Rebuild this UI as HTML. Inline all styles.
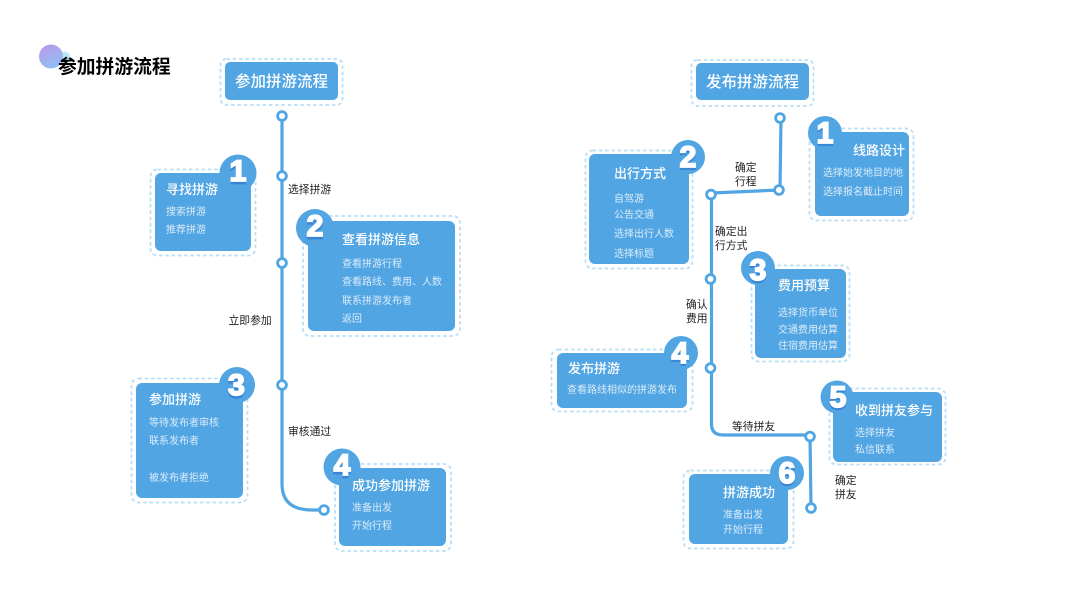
<!DOCTYPE html>
<html lang="zh">
<head>
<meta charset="utf-8">
<style>
html,body{margin:0;padding:0;background:#fff;width:1067px;height:600px;overflow:hidden}
svg{display:block}
text{font-family:"Liberation Sans","Noto Sans CJK SC",sans-serif}
.box{fill:#51a5e3}
.dash{fill:none;stroke:#b9def8;stroke-width:1.8;stroke-dasharray:3.5 2.8}
.line{fill:none;stroke:#51a5e3;stroke-width:3.2;stroke-linejoin:round}
.node{fill:#fff;stroke:#51a5e3;stroke-width:2.8}
.main{font-size:15.5px;fill:#fff;font-weight:500}
.t{font-size:13px;fill:#fff;font-weight:500}
.i{font-size:10px;fill:#dbecfa}
.l{font-size:10.8px;fill:#222}
.n{font-family:"Liberation Sans",sans-serif;font-size:30px;font-weight:bold;fill:#fff;stroke:#fff;stroke-width:1.8;text-anchor:middle}
.s{font-family:"Liberation Sans",sans-serif;font-size:30px;font-weight:bold;fill:#2f78cf;stroke:#2f78cf;stroke-width:1.8;text-anchor:middle;opacity:.7}
</style>
</head>
<body>
<svg width="1067" height="600" viewBox="0 0 1067 600" xmlns="http://www.w3.org/2000/svg">
<defs>
<linearGradient id="g" x1="0.3" y1="0" x2="0.7" y2="1"><stop offset="0" stop-color="#b79ceb"/><stop offset="1" stop-color="#8fc0f2"/></linearGradient>
</defs>
<rect width="1067" height="600" fill="#fff"/>

<!-- corner title -->
<circle cx="64" cy="58" r="6.5" fill="#bfe6f8"/>
<circle cx="51" cy="56.500" r="12" fill="url(#g)"/>
<text x="58" y="73" font-size="18.8" font-weight="700" fill="#000">参加拼游流程</text>

<!-- left flow lines -->
<path class="line" d="M282 116V484Q282 510 312 510H324"/>
<circle class="node" cx="282" cy="116" r="4.4"/>
<circle class="node" cx="282" cy="176" r="4.4"/>
<circle class="node" cx="282" cy="263" r="4.4"/>
<circle class="node" cx="282" cy="385" r="4.4"/>
<circle class="node" cx="324" cy="510" r="4.4"/>
<text class="l" x="288" y="193">选择拼游</text>
<text class="l" x="228.500" y="324">立即参加</text>
<text class="l" x="288" y="435">审核通过</text>

<!-- left title box -->
<rect class="dash" x="220.500" y="59" width="122" height="46" rx="6"/>
<rect class="box" x="225" y="62" width="113" height="38" rx="5"/>
<text class="main" x="235" y="86.500">参加拼游流程</text>

<!-- left 1 -->
<rect class="dash" x="150.500" y="169.500" width="105" height="86" rx="7"/>
<rect class="box" x="155" y="173" width="96" height="78" rx="6"/>
<circle cx="238" cy="173" r="18.500" fill="#51a5e3"/>
<text class="s" x="238" y="183.500">1</text><text class="n" x="238" y="181">1</text>
<text class="t" x="166" y="194">寻找拼游</text>
<text class="i" x="166" y="215">搜索拼游</text>
<text class="i" x="166" y="233">推荐拼游</text>

<!-- left 2 -->
<rect class="dash" x="303" y="216" width="157" height="120" rx="7"/>
<rect class="box" x="308" y="221" width="147" height="110" rx="6"/>
<circle cx="315" cy="228" r="19" fill="#51a5e3"/>
<text class="s" x="315" y="238.500">2</text><text class="n" x="315" y="236">2</text>
<text class="t" x="342" y="244">查看拼游信息</text>
<text class="i" x="342" y="267">查看拼游行程</text>
<text class="i" x="342" y="285">查看路线、费用、人数</text>
<text class="i" x="342" y="304">联系拼游发布者</text>
<text class="i" x="342" y="322">返回</text>

<!-- left 3 -->
<rect class="dash" x="131.500" y="378.500" width="116" height="124" rx="7"/>
<rect class="box" x="136" y="383" width="107" height="115" rx="6"/>
<circle cx="237" cy="385" r="18" fill="#51a5e3"/>
<text class="s" x="236.500" y="397.500">3</text><text class="n" x="236.500" y="395">3</text>
<text class="t" x="149" y="404">参加拼游</text>
<text class="i" x="149" y="426">等待发布者审核</text>
<text class="i" x="149" y="444">联系发布者</text>
<text class="i" x="149" y="481">被发布者拒绝</text>

<!-- left 4 -->
<rect class="dash" x="335" y="464" width="116" height="87" rx="7"/>
<rect class="box" x="339" y="468" width="107" height="78" rx="6"/>
<circle cx="342" cy="467" r="18.500" fill="#51a5e3"/>
<text class="s" x="342" y="477.500">4</text><text class="n" x="342" y="475">4</text>
<text class="t" x="352" y="490">成功参加拼游</text>
<text class="i" x="352" y="511">准备出发</text>
<text class="i" x="352" y="529">开始行程</text>

<!-- right flow lines -->
<path class="line" d="M781 118L780 190L711.500 193V424Q711.500 435 723 435H810L811 508"/>
<circle class="node" cx="780" cy="118" r="4.4"/>
<circle class="node" cx="779" cy="190" r="4.4"/>
<circle class="node" cx="711" cy="194.500" r="4.4"/>
<circle class="node" cx="710.500" cy="279" r="4.4"/>
<circle class="node" cx="710.500" cy="368" r="4.4"/>
<circle class="node" cx="810" cy="436.500" r="4.4"/>
<circle class="node" cx="811" cy="508" r="4.4"/>
<text class="l" x="735" y="171">确定</text>
<text class="l" x="735" y="185">行程</text>
<text class="l" x="715" y="235">确定出</text>
<text class="l" x="715" y="249">行方式</text>
<text class="l" x="686" y="308">确认</text>
<text class="l" x="686" y="322">费用</text>
<text class="l" x="732" y="430">等待拼友</text>
<text class="l" x="835" y="484">确定</text>
<text class="l" x="835" y="498">拼友</text>

<!-- right title box -->
<rect class="dash" x="691.500" y="60" width="122" height="46" rx="6"/>
<rect class="box" x="696" y="63" width="113" height="37" rx="5"/>
<text class="main" x="706" y="87">发布拼游流程</text>

<!-- right 1 -->
<rect class="dash" x="809.500" y="128.500" width="104" height="92" rx="7"/>
<rect class="box" x="815" y="132" width="94" height="84" rx="6"/>
<circle cx="825" cy="133" r="17" fill="#51a5e3"/>
<text class="s" x="825" y="145">1</text><text class="n" x="825" y="143">1</text>
<text class="t" x="853" y="155">线路设计</text>
<text class="i" x="823" y="176">选择始发地目的地</text>
<text class="i" x="823" y="195">选择报名截止时间</text>

<!-- right 2 -->
<rect class="dash" x="585.500" y="150.500" width="107" height="118" rx="7"/>
<rect class="box" x="589" y="154" width="100" height="110" rx="6"/>
<circle cx="688" cy="157" r="17" fill="#51a5e3"/>
<text class="s" x="688" y="169">2</text><text class="n" x="688" y="167">2</text>
<text class="t" x="614" y="178">出行方式</text>
<text class="i" x="614" y="202">自驾游</text>
<text class="i" x="614" y="218">公告交通</text>
<text class="i" x="614" y="237">选择出行人数</text>
<text class="i" x="614" y="257">选择标题</text>

<!-- right 3 -->
<rect class="dash" x="751.500" y="265.500" width="98" height="96" rx="7"/>
<rect class="box" x="755" y="269" width="91" height="89" rx="6"/>
<circle cx="758" cy="268" r="17" fill="#51a5e3"/>
<text class="s" x="758" y="282">3</text><text class="n" x="758" y="280">3</text>
<text class="t" x="778" y="290">费用预算</text>
<text class="i" x="778" y="316">选择货币单位</text>
<text class="i" x="778" y="333">交通费用估算</text>
<text class="i" x="778" y="349">住宿费用估算</text>

<!-- right 4 -->
<rect class="dash" x="551.500" y="349.500" width="141" height="62" rx="7"/>
<rect class="box" x="557" y="353" width="130" height="55" rx="6"/>
<circle cx="681" cy="353" r="17" fill="#51a5e3"/>
<text class="s" x="680" y="365">4</text><text class="n" x="680" y="363">4</text>
<text class="t" x="568" y="373">发布拼游</text>
<text class="i" x="567" y="393">查看路线相似的拼游发布</text>

<!-- right 5 -->
<rect class="dash" x="829.500" y="388.500" width="116" height="76" rx="7"/>
<rect class="box" x="833" y="392" width="109" height="70" rx="6"/>
<circle cx="837" cy="397" r="16.500" fill="#51a5e3"/>
<text class="s" x="838" y="409">5</text><text class="n" x="838" y="407">5</text>
<text class="t" x="855" y="415">收到拼友参与</text>
<text class="i" x="855" y="436">选择拼友</text>
<text class="i" x="855" y="453">私信联系</text>

<!-- right 6 -->
<rect class="dash" x="683.500" y="470.500" width="110" height="78" rx="7"/>
<rect class="box" x="689" y="474" width="99" height="70" rx="6"/>
<circle cx="787" cy="473" r="17" fill="#51a5e3"/>
<text class="s" x="787" y="485">6</text><text class="n" x="787" y="483">6</text>
<text class="t" x="723" y="497">拼游成功</text>
<text class="i" x="723" y="518">准备出发</text>
<text class="i" x="723" y="533">开始行程</text>
</svg>
</body>
</html>
